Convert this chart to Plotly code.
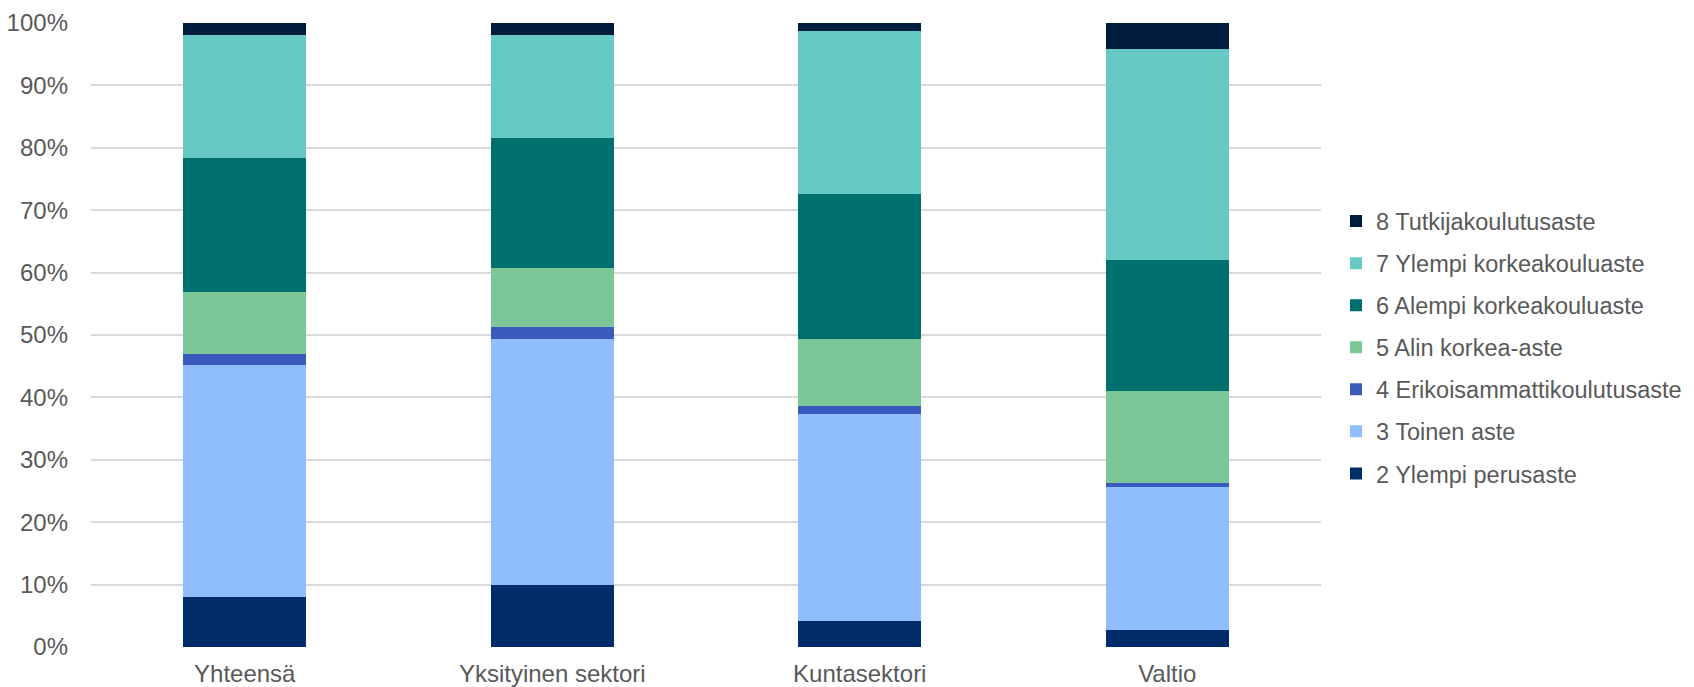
import plotly.graph_objects as go

categories = ["Yhteensä", "Yksityinen sektori", "Kuntasektori", "Valtio"]

series_names = [
    "2 Ylempi perusaste",
    "3 Toinen aste",
    "4 Erikoisammattikoulutusaste",
    "5 Alin korkea-aste",
    "6 Alempi korkeakouluaste",
    "7 Ylempi korkeakouluaste",
    "8 Tutkijakoulutusaste",
]

# shares (%) per category
s2 = [8.0, 9.9, 4.2, 2.7]
s3 = [37.2, 39.4, 33.1, 23.0]
s4 = [1.7, 2.0, 1.3, 0.6]
s5 = [10.0, 9.4, 10.7, 14.8]
s6 = [21.4, 20.8, 23.3, 20.9]
s7 = [19.8, 16.5, 26.1, 33.9]
s8 = [1.9, 2.0, 1.3, 4.1]

series_values = [s2, s3, s4, s5, s6, s7, s8]
colors = ["#002D6A", "#8FBDFE", "#3A5BBD", "#7BC797", "#00706E", "#67C9C4", "#001D40"]

tick_vals = [i / 10 for i in range(11)]
tick_text = [f"{i * 10}%" for i in range(11)]

FONT = "Liberation Sans, Arial, sans-serif"
TXT = "#595959"
FS = 24
LFS = 23.5

fig = go.Figure()
n = len(series_names)
for i, (name, vals, col) in enumerate(zip(series_names, series_values, colors)):
    fig.add_trace(go.Bar(
        x=categories,
        y=[v / 100 for v in vals],
        name=name,
        legendgroup=name,
        legendrank=n - i,
        marker=dict(color=col, line=dict(width=0)),
    ))

# page body has an 8px default margin; figure coords are shifted accordingly
W, H = 1720, 687
L, R = 83, 1313
T, B = 14.7, 638.7

fig.update_layout(
    width=W, height=H,
    barmode="stack",
    bargap=0.6,
    plot_bgcolor="white",
    paper_bgcolor="white",
    margin=dict(l=L, r=W - R, t=T, b=H - B, pad=0, autoexpand=False),
    font=dict(family=FONT, size=FS, color=TXT),
    legend=dict(
        traceorder="grouped",
        x=(1328 - L) / (R - L),
        xanchor="left",
        y=(B - 339) / (B - T),
        yanchor="middle",
        font=dict(size=LFS, color=TXT),
        tracegroupgap=8.5,
        bgcolor="rgba(0,0,0,0)",
    ),
    xaxis=dict(
        showgrid=False,
        showline=False,
        ticks="",
        ticklabelstandoff=10,
        tickfont=dict(size=FS, color=TXT),
    ),
    yaxis=dict(
        range=[0, 1],
        tickvals=tick_vals,
        ticktext=tick_text,
        showgrid=True,
        gridcolor="#D9D9D9",
        gridwidth=2,
        zeroline=False,
        showline=False,
        ticks="",
        ticklabelstandoff=22,
        tickfont=dict(size=FS, color=TXT),
    ),
)

fig.write_html("out.html")
